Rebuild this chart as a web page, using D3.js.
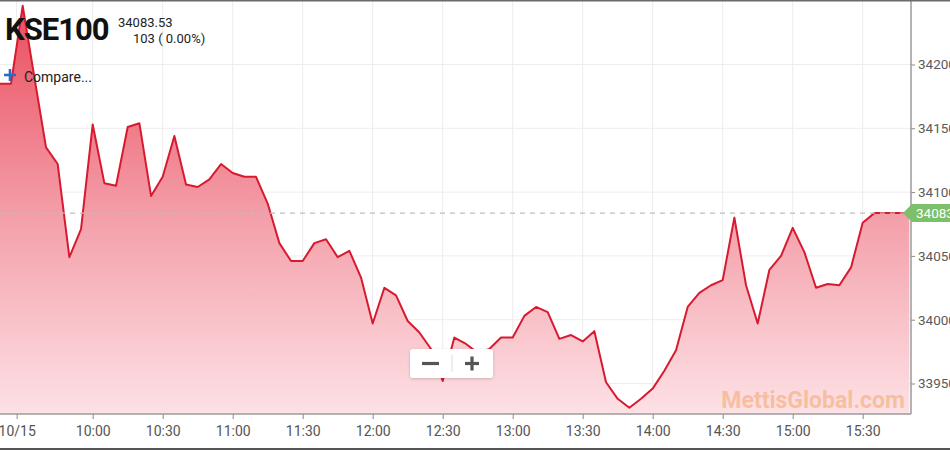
<!DOCTYPE html>
<html>
<head>
<meta charset="utf-8">
<script src="https://cdn.jsdelivr.net/npm/d3@7"></script>
<style>
  html, body { margin: 0; padding: 0; background: #fff; overflow: hidden; }
  svg { display: block; font-family: Roboto, "Noto Sans", sans-serif; }
</style>
</head>
<body>
<div id="chart"></div>
<script>
// --- data (5 minute bars, 10/15)
const times = [
  '09:20','09:25','09:30','09:35','09:40','09:45','09:50','09:55',
  '10:00','10:05','10:10','10:15','10:20','10:25','10:30','10:35','10:40','10:45','10:50','10:55',
  '11:00','11:05','11:10','11:15','11:20','11:25','11:30','11:35','11:40','11:45','11:50','11:55',
  '12:00','12:05','12:10','12:15','12:20','12:25','12:30','12:35','12:40','12:45','12:50','12:55',
  '13:00','13:05','13:10','13:15','13:20','13:25','13:30','13:35','13:40','13:45','13:50','13:55',
  '14:00','14:05','14:10','14:15','14:20','14:25','14:30','14:35','14:40','14:45','14:50','14:55',
  '15:00','15:05','15:10','15:15','15:20','15:25','15:30','15:35','15:40','15:45','15:50'
];
const values = [
  34185, 34185, 34246, 34190, 34135, 34122, 34049, 34071,
  34153, 34107, 34105, 34151, 34154, 34097, 34112, 34144, 34106, 34104, 34110, 34122,
  34115, 34112, 34112, 34091, 34060, 34046, 34046, 34060, 34063, 34049, 34054, 34033,
  33997, 34025, 34019, 33999, 33990, 33977, 33952, 33986, 33981, 33974, 33977, 33986,
  33986, 34003, 34010, 34006, 33985, 33988, 33983, 33991, 33951, 33938, 33931, 33938,
  33946, 33960, 33976, 34010, 34021, 34027, 34031, 34080, 34027, 33997, 34039, 34050,
  34072, 34053, 34025, 34028, 34027, 34041, 34076, 34083.53, 34083.53, 34083.53, 34083.53
];
const xTickTimes = ['09:27:24','10:00','10:30','11:00','11:30','12:00','12:30','13:00','13:30','14:00','14:30','15:00','15:30'];
const xTickLabels = ['10/15','10:00','10:30','11:00','11:30','12:00','12:30','13:00','13:30','14:00','14:30','15:00','15:30'];
const yTicks = [33950, 34000, 34050, 34100, 34150, 34200];
const symbol = 'KSE100';
const lastPrice = 34083.53;
const changeText = '103 ( 0.00%)';

const parseT = d3.timeParse('%Y-%m-%d %H:%M');
const parseTs = d3.timeParse('%Y-%m-%d %H:%M:%S');
function toDate(s) { return s.length > 5 ? parseTs('2018-10-15 ' + s) : parseT('2018-10-15 ' + s); }

const chart = function() {
  let width = 950;
  let height = 450;

  function inner(selection) {
    selection.each(function(data) {
      const plotR = 911, plotB = 414;

      const x = d3.scaleTime()
        .domain([toDate('10:00'), toDate('15:30')])
        .range([92.7, 862.7]);
      const y = d3.scaleLinear()
        .domain([33950, 34200])
        .range([383.5, 64.5]);

      const svg = d3.select(this).append('svg')
        .attr('width', width)
        .attr('height', height);

      const defs = svg.append('defs');
      const grad = defs.append('linearGradient')
        .attr('id', 'fillGrad')
        .attr('gradientUnits', 'userSpaceOnUse')
        .attr('x1', 0).attr('x2', 0).attr('y1', 0).attr('y2', plotB);
      grad.append('stop').attr('offset', 0).attr('stop-color', '#ea4b5c');
      grad.append('stop').attr('offset', 0.55).attr('stop-color', '#f4a3ad');
      grad.append('stop').attr('offset', 1).attr('stop-color', '#fde1e5');
      defs.append('clipPath').attr('id', 'plotClip')
        .append('rect').attr('x', 0).attr('y', 0).attr('width', plotR).attr('height', plotB);
      const shadow = defs.append('filter').attr('id', 'shadow')
        .attr('x', '-20%').attr('y', '-30%').attr('width', '140%').attr('height', '160%');
      shadow.append('feDropShadow').attr('dx', 0).attr('dy', 1).attr('stdDeviation', 1.5)
        .attr('flood-color', '#000').attr('flood-opacity', 0.18);

      // grid
      const grid = svg.append('g').attr('class', 'grid');
      grid.selectAll('.vg').data(xTickTimes).enter().append('line')
        .attr('x1', d => x(toDate(d))).attr('x2', d => x(toDate(d)))
        .attr('y1', 0).attr('y2', plotB)
        .attr('stroke', '#ececec').attr('stroke-width', 1);
      grid.selectAll('.hg').data(yTicks).enter().append('line')
        .attr('x1', 0).attr('x2', plotR)
        .attr('y1', d => y(d)).attr('y2', d => y(d))
        .attr('stroke', '#ededed').attr('stroke-width', 1);

      // area + line
      const area = d3.area()
        .x(d => x(d.t)).y0(plotB).y1(d => y(d.v));
      const line = d3.line()
        .x(d => x(d.t)).y(d => y(d.v));
      const g = svg.append('g').attr('clip-path', 'url(#plotClip)');
      g.append('path').datum(data)
        .attr('d', area)
        .attr('fill', 'url(#fillGrad)');

      // last price dashed line
      svg.append('line')
        .attr('x1', 0).attr('x2', plotR)
        .attr('y1', y(lastPrice)).attr('y2', y(lastPrice))
        .attr('stroke', '#bdbdbd').attr('stroke-width', 1.2)
        .attr('stroke-dasharray', '5,5');

      g.append('path').datum(data)
        .attr('d', line)
        .attr('fill', 'none')
        .attr('stroke', '#d81a30')
        .attr('stroke-width', 2)
        .attr('stroke-linejoin', 'round');

      // axes
      const xAxis = d3.axisBottom(x)
        .tickValues(xTickTimes.map(toDate))
        .tickFormat((d, i) => xTickLabels[i])
        .tickSize(5).tickSizeOuter(0).tickPadding(7);
      const xg = svg.append('g').attr('transform', 'translate(0,' + plotB + ')').call(xAxis);
      xg.select('.domain').remove();
      xg.append('line').attr('x1', 0).attr('x2', plotR).attr('stroke', '#9a9a9a').attr('stroke-width', 1.5);
      xg.selectAll('.tick line').attr('stroke', '#888');
      xg.selectAll('.tick text').attr('fill', '#555').style('font-size', '14px').style('font-family', 'Roboto');

      const yAxis = d3.axisRight(y)
        .tickValues(yTicks)
        .tickFormat(d3.format('d'))
        .tickSize(4).tickSizeOuter(0).tickPadding(3);
      const yg = svg.append('g').attr('transform', 'translate(' + plotR + ',0)').call(yAxis);
      yg.select('.domain').remove();
      yg.append('line').attr('y1', 0).attr('y2', plotB).attr('stroke', '#9a9a9a').attr('stroke-width', 1.5);
      yg.selectAll('.tick line').attr('stroke', '#888');
      // labels run past the window edge, as in the original screenshot
      yg.selectAll('.tick text').attr('fill', '#5a5a5a').style('font-size', '13.5px').style('font-family', 'Roboto');

      // last price tag
      const ly = y(lastPrice);
      svg.append('path')
        .attr('d', 'M903,' + ly + ' L912,' + (ly - 9) + ' L952,' + (ly - 9) + ' L952,' + (ly + 9) + ' L912,' + (ly + 9) + ' Z')
        .attr('fill', '#7cc06c');
      svg.append('text')
        .attr('x', 916).attr('y', ly + 5)
        .attr('fill', '#fff').style('font-size', '13.5px')
        .text(d3.format('.2f')(lastPrice));

      // watermark
      svg.append('text')
        .attr('x', 905).attr('y', 408)
        .attr('text-anchor', 'end')
        .attr('fill', '#f5ad78').attr('fill-opacity', 0.65)
        .style('font-size', '23px').style('font-weight', 'bold')
        .text('MettisGlobal.com');

      // zoom buttons overlay
      const zb = svg.append('g').attr('transform', 'translate(410,349)');
      zb.append('rect').attr('width', 83).attr('height', 29).attr('rx', 3)
        .attr('fill', '#fff').attr('filter', 'url(#shadow)');
      zb.append('line').attr('x1', 42).attr('x2', 42).attr('y1', 6).attr('y2', 23)
        .attr('stroke', '#ddd');
      zb.append('line').attr('x1', 12).attr('x2', 29).attr('y1', 14.5).attr('y2', 14.5)
        .attr('stroke', '#555').attr('stroke-width', 3.2);
      zb.append('line').attr('x1', 55).attr('x2', 69).attr('y1', 14.5).attr('y2', 14.5)
        .attr('stroke', '#555').attr('stroke-width', 3.2);
      zb.append('line').attr('x1', 62).attr('x2', 62).attr('y1', 7.5).attr('y2', 21.5)
        .attr('stroke', '#555').attr('stroke-width', 3.2);

      // header
      svg.append('text')
        .attr('x', 5).attr('y', 40)
        .attr('fill', '#111')
        .style('font-size', '31px').style('font-weight', 'bold').style('letter-spacing', '-1px')
        .text(symbol);
      svg.append('text')
        .attr('x', 118).attr('y', 27)
        .attr('fill', '#222').style('font-size', '13px')
        .text(d3.format('.2f')(lastPrice));
      svg.append('text')
        .attr('x', 133).attr('y', 43)
        .attr('fill', '#222').style('font-size', '13px')
        .text(changeText);

      // compare
      svg.append('line').attr('x1', 4).attr('x2', 16).attr('y1', 75).attr('y2', 75)
        .attr('stroke', '#2b6cc4').attr('stroke-width', 2.6);
      svg.append('line').attr('x1', 10).attr('x2', 10).attr('y1', 69).attr('y2', 81)
        .attr('stroke', '#2b6cc4').attr('stroke-width', 2.6);
      svg.append('text')
        .attr('x', 24).attr('y', 82)
        .attr('fill', '#222').style('font-size', '14px')
        .text('Compare...');

      // frame lines
      svg.append('line').attr('x1', 0).attr('x2', width).attr('y1', 0.75).attr('y2', 0.75)
        .attr('stroke', '#6a6a6a').attr('stroke-width', 1.5);
      svg.append('line').attr('x1', 0).attr('x2', width).attr('y1', 449).attr('y2', 449)
        .attr('stroke', '#555').attr('stroke-width', 2);
    });
  }

  inner.width = function(value) {
    if (!arguments.length) return width;
    width = value;
    return inner;
  };

  inner.height = function(value) {
    if (!arguments.length) return height;
    height = value;
    return inner;
  };

  return inner;
};

const series = times.map((t, i) => ({ t: toDate(t), v: values[i] }));
d3.select('#chart').datum(series).call(chart().width(950).height(450));
</script>
</body>
</html>
